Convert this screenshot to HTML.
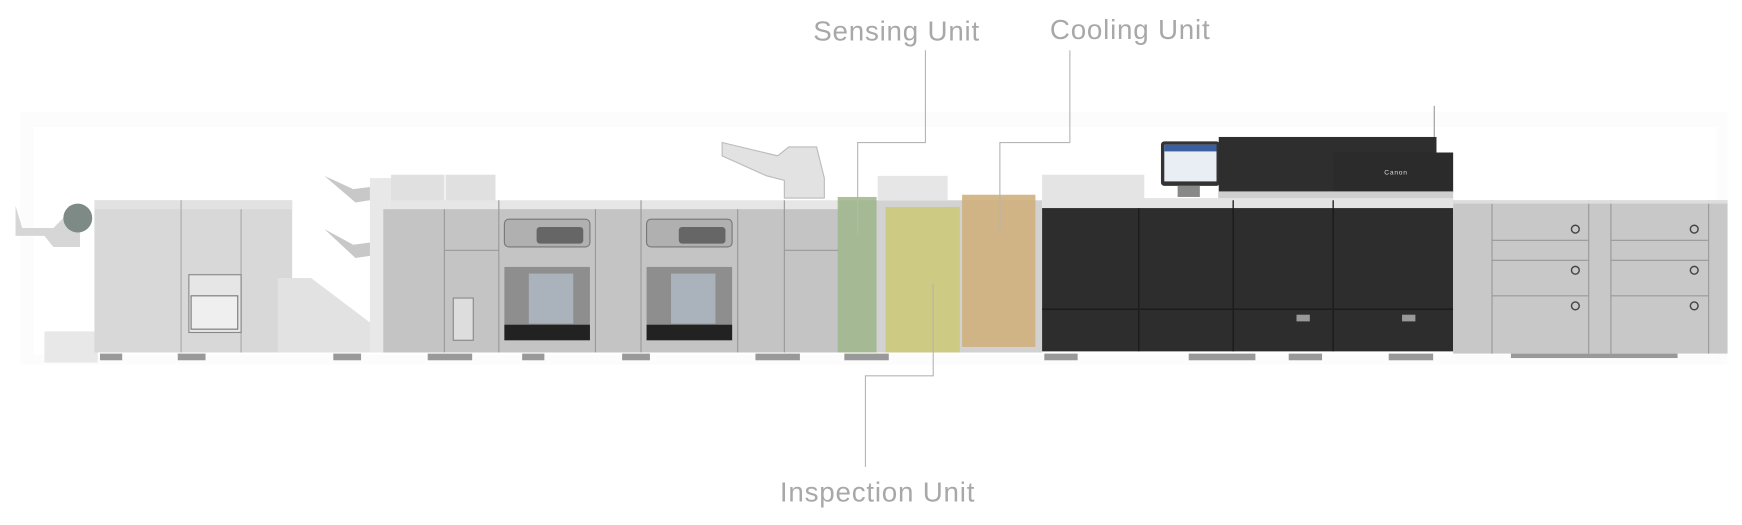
<!DOCTYPE html>
<html><head><meta charset="utf-8"><style>
html,body{margin:0;padding:0;background:#fff;width:1742px;height:525px;overflow:hidden}
svg{display:block}
text{font-family:"Liberation Sans",sans-serif;fill:#a8a8a8;font-size:25px;letter-spacing:0.7px}
</style></head><body>
<svg width="1742" height="525" viewBox="0 0 1568 472" xmlns="http://www.w3.org/2000/svg">
<rect x="18" y="100" width="1537" height="228" fill="#fcfcfc"/>
<rect x="30" y="114" width="1515" height="205" fill="#fff"/>

<rect x="40" y="298" width="48" height="28" fill="#e8e8e8"/>
<path d="M14 185 L20 205 L48 205 L58 195 L62 185 L72 183 L72 222 L48 222 L40 212 L14 212 Z" fill="#d6d6d6"/>
<circle cx="70" cy="196" r="13" fill="#7d8a85"/>
<rect x="85" y="180" width="178" height="137" fill="#d8d8d8"/>
<rect x="85" y="180" width="178" height="8" fill="#e2e2e2"/>
<line x1="163" y1="180" x2="163" y2="317" stroke="#aaa"/>
<line x1="217" y1="188" x2="217" y2="317" stroke="#aaa"/>
<rect x="170" y="247" width="47" height="52" fill="#e6e6e6" stroke="#888"/>
<rect x="172" y="266" width="42" height="30" fill="#efefef" stroke="#777"/>
<path d="M250 277 L250 317 L333 317 L333 290 L280 250 L250 250 Z" fill="#e2e2e2"/>

<path d="M292 158 L318 170 L333 168 L333 180 L320 182 Z" fill="#c8c8c8"/>
<path d="M292 206 L318 220 L333 218 L333 230 L320 232 Z" fill="#c8c8c8"/>
<rect x="333" y="160" width="20" height="157" fill="#e8e8e8"/>
<rect x="352" y="157" width="48" height="24" fill="#e0e0e0"/>
<rect x="401" y="157" width="45" height="24" fill="#e0e0e0"/>
<rect x="352" y="180" width="403" height="10" fill="#e6e6e6"/>
<rect x="345" y="188" width="410" height="129" fill="#c4c4c4"/>
<g stroke="#999" stroke-width="1">
<line x1="400" y1="188" x2="400" y2="317"/><line x1="449" y1="180" x2="449" y2="317"/>
<line x1="536" y1="188" x2="536" y2="317"/><line x1="577" y1="180" x2="577" y2="317"/>
<line x1="664" y1="188" x2="664" y2="317"/><line x1="706" y1="180" x2="706" y2="317"/>
<line x1="400" y1="225" x2="449" y2="225"/><line x1="706" y1="225" x2="755" y2="225"/>
</g>
<rect x="408" y="268" width="18" height="38" fill="#ddd" stroke="#888"/>
<rect x="454" y="197" width="77" height="25" rx="4" fill="#b0b0b0" stroke="#777"/>
<rect x="483" y="204" width="42" height="15" rx="3" fill="#666"/>
<rect x="454" y="240" width="77" height="66" fill="#8e8e8e"/>
<rect x="476" y="246" width="40" height="45" fill="#aab2bc"/>
<rect x="454" y="292" width="77" height="14" fill="#222"/>
<rect x="582" y="197" width="77" height="25" rx="4" fill="#b0b0b0" stroke="#777"/>
<rect x="611" y="204" width="42" height="15" rx="3" fill="#666"/>
<rect x="582" y="240" width="77" height="66" fill="#8e8e8e"/>
<rect x="604" y="246" width="40" height="45" fill="#aab2bc"/>
<rect x="582" y="292" width="77" height="14" fill="#222"/>
<path d="M650 128 L700 140 L710 132 L735 132 L742 160 L742 178 L706 178 L706 162 L690 158 L650 140 Z" fill="#e2e2e2" stroke="#bbb"/>

<rect x="755" y="180" width="183" height="137" fill="#d2d2d2"/>
<rect x="790" y="158" width="63" height="22" fill="#e6e6e6"/>
<rect x="754" y="177" width="35" height="140" fill="#9db68a" opacity="0.85"/>
<rect x="797" y="186" width="67" height="131" fill="#ccc97a" opacity="0.9"/>
<rect x="866" y="175" width="66" height="137" fill="#cfb07c" opacity="0.9"/>

<rect x="938" y="157" width="92" height="22" fill="#e4e4e4"/>
<rect x="1045" y="127" width="53" height="40" rx="3" fill="#333"/>
<rect x="1048" y="130" width="47" height="33" fill="#e8eef4"/>
<rect x="1048" y="130" width="47" height="6" fill="#3a5fa0"/>
<rect x="1060" y="167" width="20" height="10" fill="#888"/>
<rect x="1097" y="123" width="196" height="57" fill="#2e2e2e"/>
<rect x="1200" y="137" width="108" height="36" fill="#2b2b2b"/>
<text x="1246" y="157" style="font-size:6px;fill:#ddd">Canon</text>
<line x1="1291" y1="95" x2="1291" y2="123" stroke="#999"/>
<rect x="1097" y="172" width="211" height="8" fill="#cfcfcf"/>
<rect x="938" y="178" width="370" height="9" fill="#e4e4e4"/>
<rect x="938" y="187" width="370" height="129" fill="#2d2d2d"/>
<g stroke="#1a1a1a" stroke-width="1.2">
<line x1="1025" y1="187" x2="1025" y2="316"/><line x1="1110" y1="180" x2="1110" y2="316"/>
<line x1="1200" y1="180" x2="1200" y2="316"/><line x1="938" y1="278" x2="1308" y2="278"/>
</g>
<rect x="1167" y="283" width="12" height="6" fill="#999"/>
<rect x="1262" y="283" width="12" height="6" fill="#999"/>

<rect x="1308" y="180" width="247" height="138" fill="#c8c8c8"/>
<g stroke="#999"><line x1="1343" y1="180" x2="1343" y2="318"/><line x1="1430" y1="180" x2="1430" y2="318"/>
<line x1="1450" y1="180" x2="1450" y2="318"/><line x1="1538" y1="180" x2="1538" y2="318"/>
<line x1="1343" y1="216" x2="1430" y2="216"/><line x1="1343" y1="234" x2="1430" y2="234"/><line x1="1343" y1="266" x2="1430" y2="266"/>
<line x1="1450" y1="216" x2="1538" y2="216"/><line x1="1450" y1="234" x2="1538" y2="234"/><line x1="1450" y1="266" x2="1538" y2="266"/></g>
<g fill="none" stroke="#444" stroke-width="1.3">
<circle cx="1418" cy="206" r="3.5"/><circle cx="1418" cy="243" r="3.5"/><circle cx="1418" cy="275" r="3.5"/>
<circle cx="1525" cy="206" r="3.5"/><circle cx="1525" cy="243" r="3.5"/><circle cx="1525" cy="275" r="3.5"/></g>
<rect x="1308" y="180" width="247" height="3" fill="#ddd"/>

<g fill="#999">
<rect x="90" y="318" width="20" height="6"/><rect x="160" y="318" width="25" height="6"/><rect x="300" y="318" width="25" height="6"/>
<rect x="385" y="318" width="40" height="6"/><rect x="470" y="318" width="20" height="6"/><rect x="560" y="318" width="25" height="6"/>
<rect x="680" y="318" width="40" height="6"/><rect x="760" y="318" width="40" height="6"/><rect x="940" y="318" width="30" height="6"/>
<rect x="1070" y="318" width="60" height="6"/><rect x="1160" y="318" width="30" height="6"/><rect x="1250" y="318" width="40" height="6"/>
<rect x="1360" y="318" width="150" height="4"/>
</g>

<g fill="none" stroke="#b5b5b5" stroke-width="1">
<polyline points="833,45 833,128 772,128 772,210"/>
<polyline points="963,45 963,128 900,128 900,210"/>
<polyline points="840,255 840,338 779,338 779,420"/>
</g>

<text x="732" y="36">Sensing Unit</text>
<text x="945" y="35">Cooling Unit</text>
<text x="702" y="451">Inspection Unit</text>
</svg>
</body></html>
